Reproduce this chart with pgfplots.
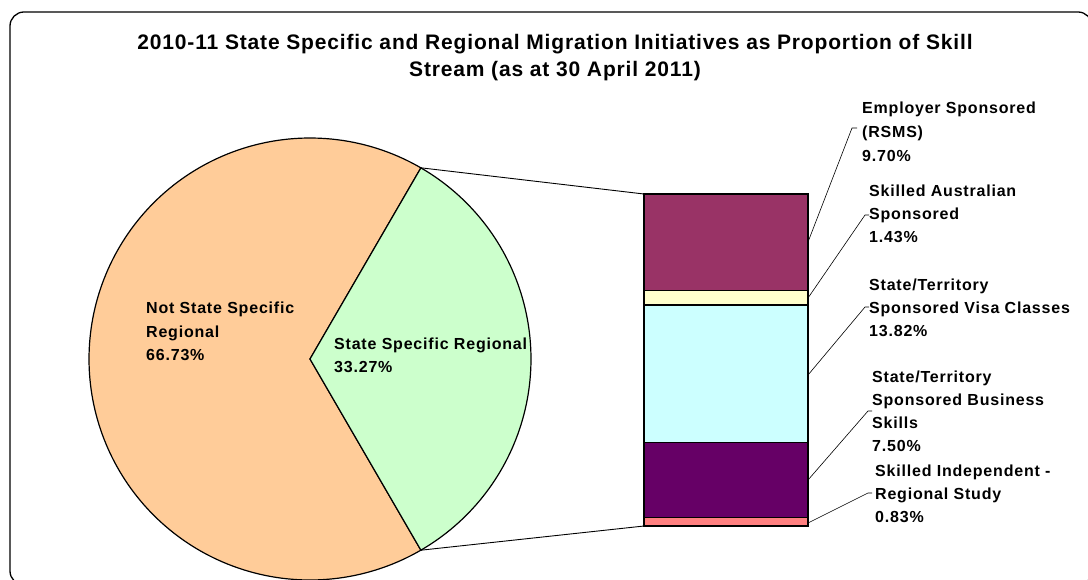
\documentclass[border=0pt]{standalone}
\usepackage{pgfplots}
\pgfplotsset{compat=1.18}
\usepackage{fontspec}
\setmainfont{Liberation Sans}
\newfontfamily\labfont[LetterSpace=5]{Liberation Sans}
\newfontfamily\titfont[LetterSpace=4]{Liberation Sans}
\definecolor{pieorange}{HTML}{FFCC99}
\definecolor{piegreen}{HTML}{CCFFCC}
\definecolor{cmaroon}{HTML}{993366}
\definecolor{cyellow}{HTML}{FFFFCC}
\definecolor{ccyan}{HTML}{CCFFFF}
\definecolor{cpurple}{HTML}{660066}
\definecolor{cpink}{HTML}{FF8080}
\begin{document}
\begin{tikzpicture}
\useasboundingbox (0,0) rectangle (1088pt,579pt);
% chart frame
\draw[line width=1.3pt, rounded corners=14pt] (10pt,567pt) rectangle (1092pt,-6pt);
% pie values
\def\vNot{66.73}
\def\vSSR{33.27}
\pgfmathsetmacro{\ha}{\vSSR*3.6/2}
\pgfmathsetmacro{\hb}{360-\ha}
\pgfmathsetmacro{\hc}{-\ha}
\begin{axis}[at={(0pt,0pt)}, anchor=south west, width=1088pt, height=579pt,
  scale only axis, xmin=0, xmax=1088, ymin=0, ymax=579, y dir=reverse,
  hide axis, clip=false]
% Not State Specific Regional slice
\addplot[draw=black, line width=1.2pt, fill=pieorange, domain=\ha:\hb, samples=181, variable=\t]
  ({310+221*cos(\t)},{359-221*sin(\t)}) -- (310,359) -- cycle;
% State Specific Regional slice
\addplot[draw=black, line width=1.2pt, fill=piegreen, domain=\hc:\ha, samples=91, variable=\t]
  ({310+221*cos(\t)},{359-221*sin(\t)}) -- (310,359) -- cycle;
% connector lines
\addplot[black, line width=0.9pt] coordinates {(420.8,167.8) (644,194)};
\addplot[black, line width=0.9pt] coordinates {(420.8,550.2) (644,526)};
% leader lines
\addplot[black, line width=0.6pt] coordinates {(808,242) (852,128) (857,128)};
\addplot[black, line width=0.6pt] coordinates {(808,298) (865,215) (869,215)};
\addplot[black, line width=0.6pt] coordinates {(808,375) (865,307) (869,307)};
\addplot[black, line width=0.6pt] coordinates {(808,480) (868,411) (872,411)};
\addplot[black, line width=0.6pt] coordinates {(808,523) (868,493) (872,493)};
% title
\node[anchor=base, font=\titfont\bfseries\fontsize{21}{25}\selectfont, inner sep=0pt] at (555,49)
  {2010-11 State Specific and Regional Migration Initiatives as Proportion of Skill};
\node[anchor=base, font=\titfont\bfseries\fontsize{21}{25}\selectfont, inner sep=0pt] at (555,76)
  {Stream (as at 30 April 2011)};
% labels
\tikzset{lab/.style={anchor=base west, inner sep=0pt, font=\labfont\bfseries\fontsize{16}{23}\selectfont}}
\node[lab] at (146,313) {Not State Specific};
\node[lab] at (146,337) {Regional};
\node[lab] at (146,360) {66.73\%};
\node[lab] at (334,349) {State Specific Regional};
\node[lab] at (334,372) {33.27\%};
\node[lab] at (862,113) {Employer Sponsored};
\node[lab] at (862,137) {(RSMS)};
\node[lab] at (862,161) {9.70\%};
\node[lab] at (869,196) {Skilled Australian};
\node[lab] at (869,219) {Sponsored};
\node[lab] at (869,242) {1.43\%};
\node[lab] at (869,290) {State/Territory};
\node[lab] at (869,313) {Sponsored Visa Classes};
\node[lab] at (869,336) {13.82\%};
\node[lab] at (872,382) {State/Territory};
\node[lab] at (872,405) {Sponsored Business};
\node[lab] at (872,428) {Skills};
\node[lab] at (872,451) {7.50\%};
\node[lab] at (875,476) {Skilled Independent -};
\node[lab] at (875,499) {Regional Study};
\node[lab] at (875,522) {0.83\%};
\end{axis}
% stacked bar of the State Specific Regional breakdown
\begin{axis}[at={(644pt,53pt)}, anchor=south west, width=164pt, height=332pt,
  scale only axis, xmin=-0.5, xmax=0.5, ymin=0, ymax=33.28,
  hide axis, clip=false, ybar stacked, bar width=164pt]
\addplot[fill=cpink, draw=black, line width=1.2pt] coordinates {(0,0.83)};
\addplot[fill=cpurple, draw=black, line width=1.2pt] coordinates {(0,7.50)};
\addplot[fill=ccyan, draw=black, line width=1.2pt] coordinates {(0,13.82)};
\addplot[fill=cyellow, draw=black, line width=1.2pt] coordinates {(0,1.43)};
\addplot[fill=cmaroon, draw=black, line width=1.2pt] coordinates {(0,9.70)};
\end{axis}
\end{tikzpicture}
\end{document}
